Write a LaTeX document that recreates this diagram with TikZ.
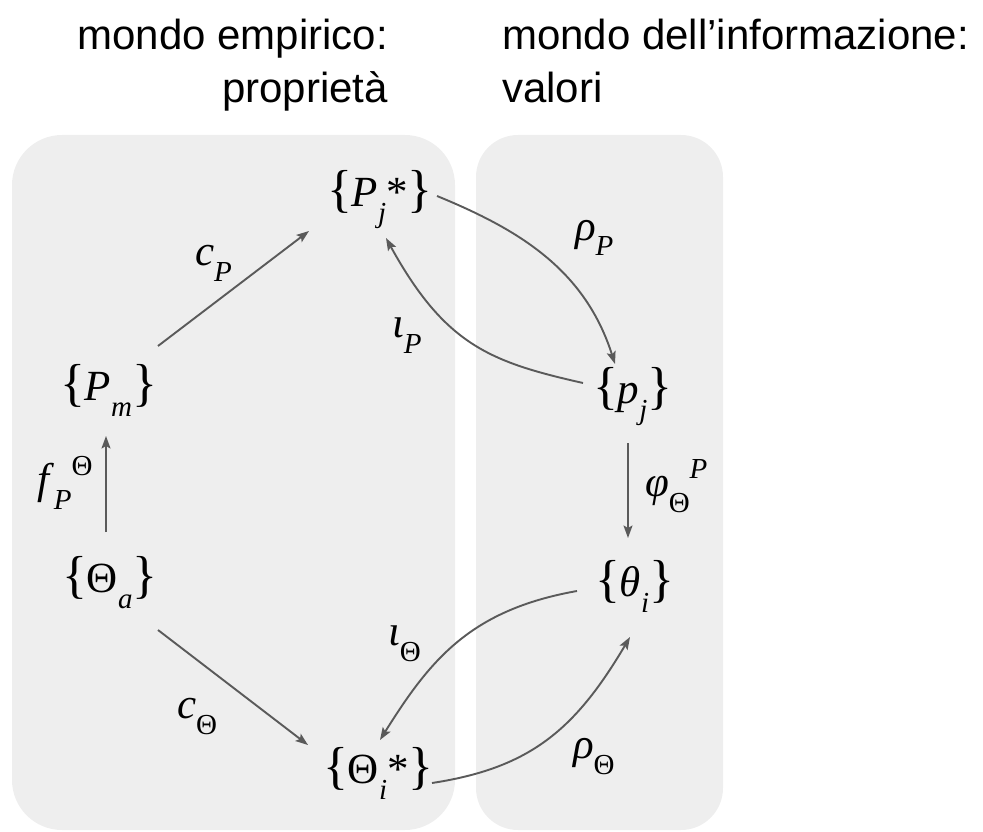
\documentclass[tikz,border=0pt]{standalone}
\usepackage{fontspec}
\setmainfont{Liberation Serif}
\newfontfamily\titlefont{Liberation Sans}
\usetikzlibrary{arrows.meta,calc}

% symbol sizes: main glyphs, lowered/raised indices, enlarged braces
\newcommand\mainsz{\fontsize{43}{43}\selectfont}
\newcommand\lo[1]{\raisebox{-16pt}{\fontsize{29}{29}\selectfont #1}}
\newcommand\hi[1]{\raisebox{18pt}{\fontsize{29}{29}\selectfont #1}}
\newcommand\lbr{{\fontsize{52}{52}\selectfont\{}}
\newcommand\rbr{{\fontsize{52}{52}\selectfont\}}}

\definecolor{panel}{HTML}{EEEEEE}
\definecolor{wire}{HTML}{5A5A5A}

\tikzset{
  sym/.style={inner sep=0pt, outer sep=0pt, anchor=base west, font=\mainsz},
  lab/.style={inner sep=0pt, outer sep=0pt, anchor=base west, font=\mainsz},
  head/.style={inner sep=0pt, font=\titlefont\fontsize{42}{42}\selectfont},
  link/.style={draw=wire, line width=1.9pt,
    -{Stealth[length=12.5pt,width=9pt,inset=2.5pt]}},
}

\begin{document}
\begin{tikzpicture}[x=1pt, y=-1pt]
\useasboundingbox (0,0) rectangle (983,832);

% the two worlds
\fill[panel, rounded corners=50pt] (12,135) rectangle (455,830);
\fill[panel, rounded corners=42pt] (476,135) rectangle (723,830);

% headings
\node[head, anchor=base east] (h1) at (388,50) {mondo empirico:};
\node[head, anchor=base east] (h2) at (388,103) {proprietà};
\node[head, anchor=base west] (h3) at (502,50) {mondo dell’informazione:};
\node[head, anchor=base west] (h4) at (502,103) {valori};

% sets
\node[sym] (Pj) at (327,207) {\lbr\textit{P}\lo{\textit{j}}*\rbr};
\node[sym] (Pm) at (60,400) {\lbr\textit{P}\lo{\textit{m}}\rbr};
\node[sym] (Ta) at (62,592) {\lbr Θ\lo{\textit{a}}\rbr};
\node[sym] (Ti) at (323,783) {\lbr Θ\lo{\textit{i}}*\rbr};
\node[sym] (pj) at (593,403) {\lbr\textit{p}\lo{\textit{j}}\rbr};
\node[sym] (th) at (595,596) {\lbr\textit{θ}\lo{\textit{i}}\rbr};

% maps between the sets
\draw[link] ($(Pm.base west)+(98,-54)$) -- ($(Pj.base west)+(-18,24)$);
\draw[link] ($(Ta.base west)+(44,-60)$) -- ($(Pm.base west)+(46,36)$);
\draw[link] ($(Ta.base west)+(96,38)$) -- ($(Ti.base west)+(-15,-38)$);
\draw[link] ($(Pj.base west)+(110,-11)$)
  .. controls +(83,34) and +(-30,-94) .. ($(pj.base west)+(22,-39)$);
\draw[link] ($(pj.base west)+(-10,-20)$)
  .. controls +(-93,-21) and +(59,107) .. ($(Pj.base west)+(59,31)$);
\draw[link] ($(pj.base west)+(35,40)$) -- ($(th.base west)+(33,-58)$);
\draw[link] ($(th.base west)+(-18,-5)$)
  .. controls +(-107,19) and +(50,-80) .. ($(Ti.base west)+(57,-43)$);
\draw[link] ($(Ti.base west)+(109,0)$)
  .. controls +(98,-15) and +(-55,93) .. ($(th.base west)+(35,41)$);

% map names
\node[lab] (lcP) at (195,265) {\textit{c}\lo{\textit{P}}};
\node[lab] (lf)  at (37,493)  {\textit{f}\lo{\textit{P}}\hi{Θ}};
\node[lab] (lcT) at (177,718) {\textit{c}\lo{Θ}};
\node[lab] (liP) at (392,337) {\textit{ι}\lo{\textit{P}}};
\node[lab] (lrP) at (575,240) {\textit{ρ}\lo{\textit{P}}};
\node[lab] (lph) at (645,496) {\textit{φ}\lo{Θ}\hi{\textit{P}}};
\node[lab] (liT) at (388,645) {\textit{ι}\lo{Θ}};
\node[lab] (lrT) at (573,758) {\textit{ρ}\lo{Θ}};
\end{tikzpicture}
\end{document}
